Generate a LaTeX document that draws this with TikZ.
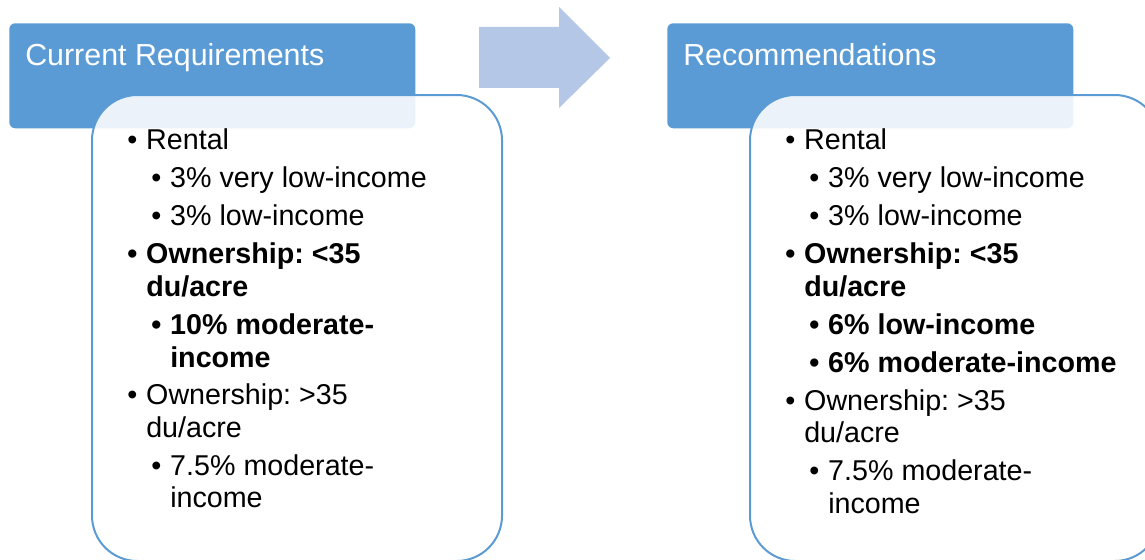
\documentclass[tikz,border=0pt]{standalone}
\usepackage{fontspec}
\setmainfont{Liberation Sans}
\usetikzlibrary{positioning}
\definecolor{hdrblue}{HTML}{5B9BD5}
\definecolor{arrowblue}{HTML}{B4C7E7}
\frenchspacing
\tikzset{
  hdrbox/.style={rectangle, fill=hdrblue, rounded corners=4.5pt, anchor=north west,
                 minimum width=304.5pt, minimum height=78.75pt, inner sep=0pt},
  hdrtxt/.style={anchor=base west, inner sep=0pt, text=white,
                 font=\fontsize{22.8}{26}\selectfont},
  listbox/.style={rectangle, draw=hdrblue, line width=1.5pt, fill=white, fill opacity=0.88,
                  rounded corners=34pt, anchor=north west,
                  minimum width=307.5pt, minimum height=349.5pt, inner sep=0pt},
  itm/.style={anchor=base west, inner sep=0pt, font=\fontsize{21.5}{24}\selectfont},
  itmb/.style={itm, font=\fontsize{21.5}{24}\selectfont\bfseries},
}
\newcommand{\bul}{\llap{\textbullet\hspace{6.6pt}}}

\begin{document}
\begin{tikzpicture}[x=0.75pt, y=-0.75pt]
  \useasboundingbox (0,0) rectangle (1145,560);
  \clip (0,0) rectangle (1145,560);

  % left column: current requirements
  \node[hdrbox] (curhdr) at (9,23) {};
  \node[listbox] (curbox) at (91,94) {};
  \node[hdrtxt] (curtitle) at (25,65) {Current Requirements};
  \node[itm]  (c1)  at (146,149) {\bul Rental};
  \node[itm]  (c2)  at (170,187) {\bul 3\% very low-income};
  \node[itm]  (c3)  at (170,225) {\bul 3\% low-income};
  \node[itmb] (c4)  at (146,263) {\bul Ownership: <35};
  \node[itmb] (c5)  at (146,296) {du/acre};
  \node[itmb] (c6)  at (170,334) {\bul 10\% moderate-};
  \node[itmb] (c7)  at (170,367) {income};
  \node[itm]  (c8)  at (146,404) {\bul Ownership: >35};
  \node[itm]  (c9)  at (146,437) {du/acre};
  \node[itm]  (c10) at (170,475) {\bul 7.5\% moderate-};
  \node[itm]  (c11) at (170,507) {income};

  % arrow between the columns
  \fill[arrowblue] (479,27) -- (559,27) -- (559,7) -- (610,58) -- (559,108)
    -- (559,88) -- (479,88) -- cycle;

  % right column: recommendations
  \node[hdrbox] (rechdr) at (667,23) {};
  \node[listbox] (recbox) at (749,94) {};
  \node[hdrtxt] (rectitle) at (683,65) {Recommendations};
  \node[itm]  (r1)  at (804,149) {\bul Rental};
  \node[itm]  (r2)  at (828,187) {\bul 3\% very low-income};
  \node[itm]  (r3)  at (828,225) {\bul 3\% low-income};
  \node[itmb] (r4)  at (804,263) {\bul Ownership: <35};
  \node[itmb] (r5)  at (804,296) {du/acre};
  \node[itmb] (r6)  at (828,334) {\bul 6\% low-income};
  \node[itmb] (r7)  at (828,372) {\bul 6\% moderate-income};
  \node[itm]  (r8)  at (804,410) {\bul Ownership: >35};
  \node[itm]  (r9)  at (804,442) {du/acre};
  \node[itm]  (r10) at (828,480) {\bul 7.5\% moderate-};
  \node[itm]  (r11) at (828,513) {income};
\end{tikzpicture}
\end{document}
